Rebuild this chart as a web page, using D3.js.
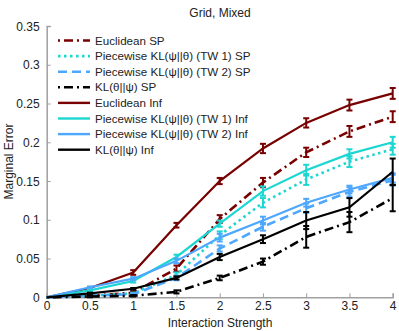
<!DOCTYPE html>
<html>
<head>
<meta charset="utf-8">
<script src="https://cdn.jsdelivr.net/npm/d3@7"></script>
<style>
  body { margin: 0; background: #fff; }
  text { font-family: "Liberation Sans", Arial, sans-serif; fill: #222; }
</style>
</head>
<body>
<svg id="chart"></svg>
<script>
// interaction strength values
var strengths = [0, 0.5, 1, 1.5, 2, 2.5, 3, 3.5, 4];
var xTicks = [0, 0.5, 1, 1.5, 2, 2.5, 3, 3.5, 4];
var yTicks = [0, 0.05, 0.1, 0.15, 0.2, 0.25, 0.3, 0.35];

var seriesNames = [
    'Euclidean SP',
    'Piecewise KL(\u03C8||\u03B8) (TW 1) SP',
    'Piecewise KL(\u03C8||\u03B8) (TW 2) SP',
    'KL(\u03B8||\u03C8) SP',
    'Euclidean Inf',
    'Piecewise KL(\u03C8||\u03B8) (TW 1) Inf',
    'Piecewise KL(\u03C8||\u03B8) (TW 2) Inf',
    'KL(\u03B8||\u03C8) Inf'
];

var euclidSP   = [0, 0.002, 0.006, 0.037, 0.101, 0.148, 0.187, 0.214, 0.233];
var tw1SP      = [0, 0.002, 0.005, 0.029, 0.080, 0.122, 0.152, 0.175, 0.191];
var tw2SP      = [0, 0.002, 0.004, 0.025, 0.063, 0.091, 0.115, 0.136, 0.151];
var klSP       = [0, 0.001, 0.002, 0.007, 0.025, 0.046, 0.078, 0.097, 0.128];
var euclidInf  = [0, 0.012, 0.032, 0.093, 0.150, 0.192, 0.225, 0.248, 0.263];
var tw1Inf     = [0, 0.009, 0.021, 0.052, 0.095, 0.137, 0.164, 0.185, 0.200];
var tw2Inf     = [0, 0.013, 0.024, 0.047, 0.077, 0.099, 0.122, 0.139, 0.154];
var klInf      = [0, 0.005, 0.011, 0.025, 0.052, 0.075, 0.099, 0.116, 0.162];

var euclidSPErr  = [0, 0.001, 0.002, 0.004, 0.005, 0.006, 0.006, 0.007, 0.007];
var tw1SPErr     = [0, 0.001, 0.001, 0.003, 0.005, 0.006, 0.007, 0.007, 0.007];
var tw2SPErr     = [0, 0.001, 0.001, 0.003, 0.004, 0.005, 0.006, 0.006, 0.007];
var klSPErr      = [0, 0.001, 0.001, 0.002, 0.003, 0.004, 0.014, 0.013, 0.017];
var euclidInfErr = [0, 0.001, 0.003, 0.003, 0.004, 0.006, 0.006, 0.007, 0.007];
var tw1InfErr    = [0, 0.001, 0.002, 0.003, 0.004, 0.006, 0.007, 0.006, 0.007];
var tw2InfErr    = [0, 0.001, 0.002, 0.003, 0.005, 0.005, 0.005, 0.005, 0.006];
var klInfErr     = [0, 0.001, 0.001, 0.002, 0.004, 0.005, 0.011, 0.012, 0.017];

var seriesValues = [euclidSP, tw1SP, tw2SP, klSP, euclidInf, tw1Inf, tw2Inf, klInf];
var seriesErrors = [euclidSPErr, tw1SPErr, tw2SPErr, klSPErr, euclidInfErr, tw1InfErr, tw2InfErr, klInfErr];

var darkRed = '#780000', cyan = '#1cd6d2', blue = '#4ea7ff', black = '#000';
var colors = [darkRed, cyan, blue, black, darkRed, cyan, blue, black];
var dashes = ['2,4,9,4', '2.5,3.5', '9,5', '2,4,9,4', null, null, null, null];

var width = 399, height = 331;
var svg = d3.select('#chart').attr('width', width).attr('height', height);

var x = d3.scaleLinear().domain([0, 4]).range([46.7, 392.7]);
var y = d3.scaleLinear().domain([0, 0.35]).range([297.3, 26]);

// axes (ticks drawn inward)
var xAxis = svg.append('g')
    .attr('transform', `translate(0, ${y(0)})`)
    .call(d3.axisBottom(x).tickValues(xTicks).tickSize(-4).tickPadding(4)
        .tickFormat(d => d3.format('~g')(d)));
var yAxis = svg.append('g')
    .attr('transform', `translate(${x(0)}, 0)`)
    .call(d3.axisLeft(y).tickValues(yTicks).tickSize(-4).tickPadding(7)
        .tickFormat(d => d3.format('~g')(d)));

[xAxis, yAxis].forEach(function(ax) {
    ax.select('.domain').attr('stroke', '#a0a0a0').attr('stroke-width', 1.5);
    ax.selectAll('.tick line').attr('stroke', '#a0a0a0');
    ax.selectAll('.tick text').style('font-size', '12px').attr('fill', '#222')
        .style('font-family', '"Liberation Sans", Arial, sans-serif');
});
xAxis.selectAll('.tick text').attr('y', 4).attr('dy', '0.71em');
yAxis.selectAll('.tick text').attr('dy', '0.35em');

var line = d3.line()
    .x((d, i) => x(strengths[i]))
    .y(d => y(d));

var lines = svg.append('g').classed('lines', true);

seriesValues.forEach(function(vals, s) {
    var g = lines.append('g');
    g.append('path')
        .datum(vals)
        .attr('fill', 'none')
        .attr('stroke', colors[s])
        .attr('stroke-width', dashes[s] ? 2.6 : 2.2)
        .attr('stroke-dasharray', dashes[s])
        .attr('d', line);

    var errs = seriesErrors[s];
    var bars = g.selectAll('.err')
        .data(vals.map((v, i) => ({ v: v, e: errs[i], x: strengths[i] })).filter(d => d.x > 0))
        .enter().append('g');
    bars.append('line')
        .attr('x1', d => x(d.x)).attr('x2', d => x(d.x))
        .attr('y1', d => y(d.v - d.e)).attr('y2', d => y(d.v + d.e))
        .attr('stroke', colors[s]).attr('stroke-width', 2);
    [-1, 1].forEach(function(sign) {
        bars.append('line')
            .attr('x1', d => x(d.x) - 3).attr('x2', d => x(d.x) + 3)
            .attr('y1', d => y(d.v + sign * d.e)).attr('y2', d => y(d.v + sign * d.e))
            .attr('stroke', colors[s]).attr('stroke-width', 2);
    });
});

// legend
var legend = svg.append('g').classed('legend', true);
seriesNames.forEach(function(name, i) {
    var ly = 40.5 + i * 15.6;
    legend.append('line')
        .attr('x1', 58).attr('x2', 90)
        .attr('y1', ly).attr('y2', ly)
        .attr('stroke', colors[i])
        .attr('stroke-width', dashes[i] ? 2.6 : 2.4)
        .attr('stroke-dasharray', dashes[i]);
    legend.append('text')
        .attr('x', 95).attr('y', ly)
        .attr('dy', '0.35em')
        .style('font-size', '11.6px')
        .text(name);
});

// title and axis labels
svg.append('text')
    .attr('x', 220).attr('y', 17)
    .style('font-size', '12px')
    .style('text-anchor', 'middle')
    .text('Grid, Mixed');

svg.append('text')
    .attr('x', 220).attr('y', 327)
    .style('font-size', '12px')
    .style('text-anchor', 'middle')
    .text('Interaction Strength');

svg.append('text')
    .attr('transform', 'translate(13, 161.5) rotate(-90)')
    .style('font-size', '12px')
    .style('text-anchor', 'middle')
    .text('Marginal Error');
</script>
</body>
</html>
